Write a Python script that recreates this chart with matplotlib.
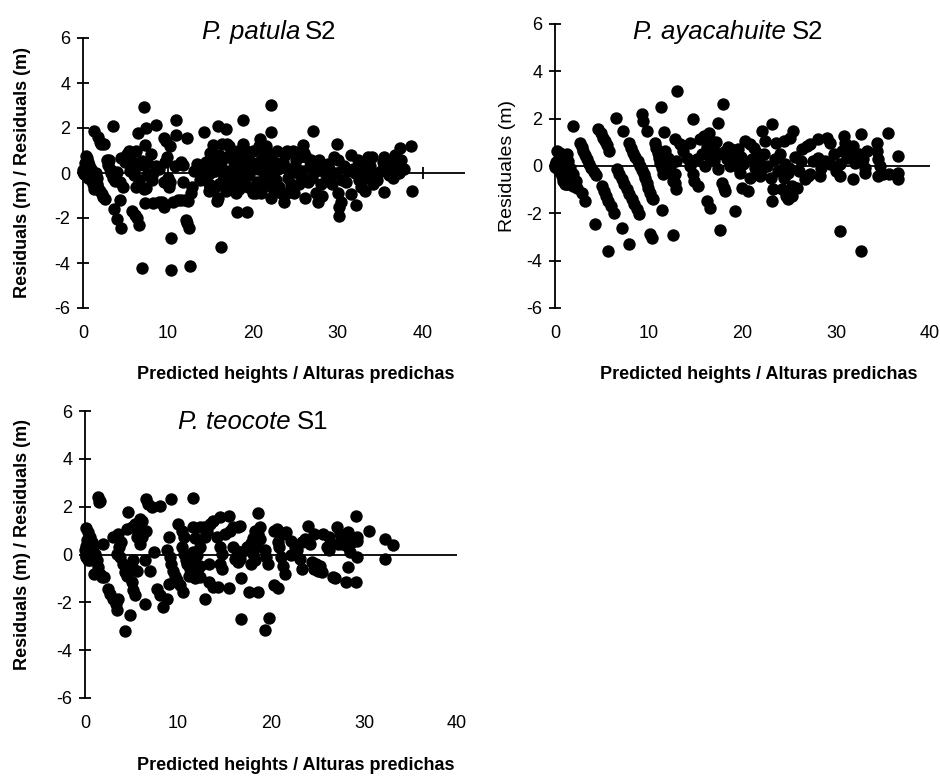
import numpy as np
import matplotlib
matplotlib.use("Agg")
import matplotlib.pyplot as plt
from matplotlib import font_manager

# ---------------- data (predicted height, residual) ----------------
patula = [
(0.0,0.15),(0.05,0.05),(0.15,-0.05),(0.3,0.75),(0.45,0.65),(0.6,0.5),(0.75,0.35),(0.9,0.2),(1.05,0.05),(1.2,-0.1),
(0.3,0.3),(0.5,0.15),(0.7,0.0),(0.85,-0.15),(1.0,-0.3),(1.15,-0.5),(1.3,-0.7),(0.2,0.45),(0.4,-0.1),(0.6,-0.2),
(1.4,-0.35),(1.6,-0.5),(1.8,-0.65),(2.0,-0.8),(2.2,-0.95),(2.4,-1.05),(2.6,-1.15),(1.5,0.0),(1.7,-0.2),(1.3,1.88),
(1.75,1.6),(2.0,1.4),(2.5,1.3),(2.1,1.3),
(2.8,0.6),(3.1,0.6),(2.9,0.35),(3.2,0.2),(3.3,0.0),(3.5,-0.2),(3.8,-0.35),(3.5,2.07),(3.6,-1.6),(4.0,-2.05),
(4.5,-2.45),(4.4,-1.2),(4.7,-0.6),(4.3,-0.4),(4.0,0.05),(4.5,0.65),(4.9,0.5),
(5.2,0.85),(5.4,1.0),(5.7,0.9),(6.2,1.0),(5.5,0.1),(5.7,0.35),(6.1,0.45),(6.4,0.3),(6.0,-0.1),(6.5,1.76),
(6.3,-0.6),(6.6,-0.3),(5.8,-1.7),(6.1,-1.85),(6.4,-2.0),(6.6,-2.3),(7.0,-4.2),(7.15,2.94),(7.4,2.02),(7.3,1.25),
(7.0,0.55),(7.2,0.35),(7.5,0.5),(7.5,-0.1),(7.2,-0.7),(7.4,-0.65),(7.3,-1.35),
(8.0,0.85),(8.1,-0.3),(8.3,0.0),(8.6,2.14),(8.2,-1.35),(8.6,0.3),(8.9,0.2),(8.9,-1.3),(9.3,-1.3),(9.5,1.55),
(9.8,1.42),(9.6,-0.4),(9.7,0.5),(9.6,-1.5),(9.9,0.7),(10.0,-0.2),(10.2,1.2),(10.1,-0.6),(10.3,-0.4),
(10.4,-2.9),(10.4,-4.3),(10.6,-1.3),(10.8,0.3),(11.0,2.36),(11.0,1.7),(11.2,-1.2),(11.6,-1.2),(11.5,0.5),(11.8,0.35),
(11.8,-0.4),(12.0,-1.2),(12.2,1.54),(12.1,-2.1),(12.3,-2.2),(12.5,-2.45),(12.4,-1.25),(12.6,-4.15),(12.8,-0.6),
(12.7,-0.9),(13.1,0.1),(13.4,0.4),(13.6,0.25),
(14.3,1.83),(14.0,0.2),(14.3,-0.1),(14.6,0.3),(14.8,-0.5),(15.0,0.0),(15.0,0.9),(15.3,1.26),(15.5,0.6),(15.3,-0.7),
(15.8,-1.25),(15.9,-1.1),(15.9,2.07),(16.2,-3.3),(16.1,0.2),(16.3,0.5),(16.4,1.3),(16.5,-0.3),(16.8,1.95),(16.8,0.7),
(17.0,0.1),(17.0,-0.6),(17.2,1.2),
(17.5,0.0),(17.8,0.5),(17.8,-0.3),(18.0,-0.9),(18.3,1.0),(18.2,-1.75),(18.5,0.2),(18.7,-0.5),(18.9,2.36),(18.9,1.28),
(19.2,1.0),(19.3,-1.75),(19.2,0.3),(19.4,-0.6),(19.8,0.5),(19.6,-0.1),(20.0,-0.9),(20.3,-0.7),
(20.8,1.51),(20.7,1.2),(20.6,0.2),(21.0,0.6),(21.3,-0.2),(21.3,0.9),(21.6,1.18),(21.8,-0.55),(22.0,0.1),(22.2,3.01),
(22.2,1.83),(22.2,-1.1),(22.5,0.5),(22.7,-0.3),(22.9,1.0),(23.1,-0.6),(23.4,0.3),
(23.7,-1.3),(23.8,0.8),(24.0,-0.9),(24.3,0.2),(24.5,-0.5),(24.7,1.0),(24.8,-0.9),(25.1,0.6),(25.3,0.0),(25.5,-0.5),
(25.9,1.26),(26.0,-0.3),(26.2,-1.1),(26.3,0.7),(26.7,0.3),(27.1,1.88),(27.0,-0.2),(27.3,0.5),
(27.7,-1.3),(27.8,0.6),(28.0,-0.5),(28.3,0.2),(28.7,-0.3),(28.9,0.4),(29.3,-0.5),(29.6,0.7),(29.9,1.31),(30.0,0.6),
(30.2,-1.9),(30.1,-1.5),(30.4,-1.3),(30.5,-0.3),(30.7,0.3),(31.2,0.1),(31.6,0.8),(31.6,-0.95),(31.8,0.2),
(32.2,-1.4),(32.5,-0.3),(32.8,-0.6),(33.0,0.1),(33.4,-0.2),(33.6,0.7),(34.1,0.7),(34.0,0.0),(34.6,-0.3),(35.1,0.1),
(35.4,-0.85),(35.5,0.7),(35.8,0.35),(36.0,-0.1),(36.2,0.2),(36.6,0.5),(37.0,0.3),(37.3,1.11),(37.5,0.6),(37.8,0.2),
(38.6,1.18),(38.8,-0.78),(36.5,-0.2),(35.6,0.3),
(14.5,0.5),(15.6,0.1),(16.8,-0.2),(17.4,0.7),(18.1,0.4),(18.8,0.0),(19.0,-0.2),(19.6,0.9),(20.2,0.4),(20.5,-0.4),
(21.5,0.3),(22.4,-0.2),(23.0,0.2),(23.6,0.5),(24.2,-0.2),(25.0,0.3),(25.8,0.1),(26.5,-0.4),(27.5,0.1),(28.5,0.0),
(29.0,-0.2),(29.8,0.0),(31.0,-0.4),(32.0,0.0),(32.7,0.3),(33.8,0.3),(34.8,0.0),(35.3,0.5),(36.8,0.8),(37.2,0.0),
(26.0,0.9),(24.0,1.0),(22.0,0.8),(21.0,-0.9),(20.0,1.0),(19.0,0.7),(18.0,0.8),(17.0,1.3),(16.0,0.8),(15.5,-0.6),
(14.8,-0.8),(13.8,-0.3),(30.0,-0.9),(29.0,0.2),(33.2,-0.8),(32.4,0.6),(34.2,-0.5),(28.2,-1.0),(27.5,-0.9),(26.8,0.6),
(25.5,0.7),(24.4,-0.8),(23.3,-0.9),(22.5,-0.8),(21.2,-0.6),(20.4,-0.9),(19.0,-0.4),(18.4,-0.7),(17.5,-0.5),(16.8,-0.8),
(16.0,-0.5),
]

ayacahuite = [
(0.0,0.05),(0.05,-0.05),(0.1,0.15),(0.25,0.63),(0.46,0.49),(0.6,0.35),(0.82,0.21),(0.96,0.07),(1.1,-0.07),(1.25,-0.21),
(1.39,-0.35),(1.53,-0.49),(1.67,-0.7),(1.96,-0.85),(0.25,-0.07),(0.46,-0.21),(0.7,-0.42),(0.9,-0.63),(1.07,-0.77),(1.3,-0.77),
(1.25,0.49),(1.42,0.21),(1.6,-0.07),(1.96,-0.35),(2.24,-0.63),(2.38,-0.92),(0.53,0.56),(1.24,-0.77),(0.8,-0.1),(0.4,0.3),
(0.7,0.0),(1.0,-0.4),(2.85,-1.13),(3.2,-1.48),(1.9,1.7),
(2.67,0.99),(2.85,0.82),(3.03,0.63),(3.2,0.45),(3.45,0.28),(3.65,0.1),(3.87,-0.07),(4.15,-0.24),(4.36,-0.38),(4.27,-2.46),
(4.6,1.55),(4.86,1.38),(5.07,1.2),(5.3,1.06),(5.5,0.89),(5.8,0.63),
(5.0,-0.85),(5.23,-1.06),(5.45,-1.27),(5.7,-1.48),(5.95,-1.69),(6.3,-1.97),(5.7,-3.59),
(6.58,-0.14),(6.86,-0.35),(7.1,-0.56),(7.37,-0.77),(7.65,-0.99),(7.93,-1.2),(8.18,-1.41),(8.43,-1.62),(8.72,-1.83),(8.97,-2.04),
(6.5,2.04),(7.1,-2.6),(7.9,-3.28),(7.3,1.48),
(7.93,0.99),(8.15,0.77),(8.36,0.56),(8.58,0.38),(8.83,0.21),(9.08,0.0),(9.3,-0.18),(9.5,-0.35),
(9.25,2.18),(9.4,1.9),(9.8,1.48),
(9.6,-0.49),(9.8,-0.7),(9.96,-0.92),(10.15,-1.13),(10.3,-1.34),(10.5,-1.41),(10.1,-2.89),(10.3,-3.03),
(10.7,0.99),(10.8,0.77),(10.95,0.56),(11.1,0.35),(11.2,0.14),(11.4,-0.07),(11.5,-0.35),
(11.3,2.5),(11.6,1.44),(11.4,-1.86),(12.6,-2.93),(13.0,3.17),
(12.8,1.13),(12.9,0.21),(12.8,-0.35),(12.8,-0.7),(12.9,-0.99),
(11.75,0.63),(12.0,0.35),(12.3,0.0),(12.45,-0.35),(12.6,-0.63),
(13.3,0.92),(13.7,0.63),(14.05,0.35),(14.4,0.0),(14.7,-0.35),(14.85,-0.63),
(14.4,0.99),(15.1,0.28),(15.3,-0.85),(14.7,2.0),
(15.5,1.13),(15.85,1.27),(16.4,1.41),(16.6,1.06),(16.9,0.77),(17.4,0.49),(17.0,0.2),(16.5,0.4),(15.7,0.5),(16.0,0.0),
(16.2,0.8),(17.2,1.0),(16.2,-1.48),(16.5,-1.76),(17.4,1.8),(17.9,2.6),(17.6,-2.72),
(17.4,-0.14),(17.8,-0.7),(18.0,-0.92),(18.1,-1.06),(19.2,-1.9),
(18.0,0.6),(18.5,0.8),(18.8,0.7),(19.0,0.5),(19.3,0.2),(18.3,0.3),(18.7,0.0),
(23.1,1.76),(22.1,1.48),(25.4,1.48),(25.1,1.2),(22.4,1.06),(23.6,0.99),(24.4,1.06),(20.3,1.06),(20.8,0.92),(21.2,0.77),
(21.5,0.56),(19.5,0.7),(19.8,0.4),(20.0,0.1),(19.6,-0.1),
(19.7,-0.28),(20.8,-0.49),(21.9,-0.42),(23.0,-0.49),(19.9,-0.92),(20.6,-1.06),
(23.3,-0.99),(24.2,-0.99),(25.3,-0.85),(25.8,-0.92),(23.1,-1.48),(24.6,-1.27),(24.9,-1.41),(25.3,-1.27),(24.4,-0.49),(24.9,-0.28),
(26.3,0.7),(26.9,0.85),(27.2,0.92),(26.2,0.21),(27.0,-0.42),(26.7,-0.56),(27.2,-0.35),
(28.1,1.13),(29.0,1.2),(29.3,0.99),(28.1,0.35),(28.8,0.21),(28.4,-0.07),(28.3,-0.42),(29.3,0.07),
(30.8,1.27),(30.9,0.99),(30.6,0.63),(31.1,0.35),(30.4,0.07),(30.4,-0.42),
(31.8,0.85),(31.6,0.49),(32.0,0.14),(31.8,-0.56),(32.6,1.34),(32.4,0.49),(32.9,0.28),(33.1,-0.07),(33.3,0.63),(33.1,-0.28),
(34.3,0.99),(34.3,0.63),(34.5,0.28),(34.7,0.0),(34.5,-0.42),(35.0,-0.35),(35.6,-0.35),(35.5,1.41),
(36.6,0.42),(36.6,-0.28),(36.6,-0.56),(30.4,-2.75),(32.6,-3.59),
(21.0,0.3),(21.8,0.2),(22.3,0.5),(22.6,0.0),(23.5,0.3),(23.8,-0.2),(22.0,-0.2),(21.3,-0.1),
(24.0,0.5),(24.5,0.1),(25.0,-0.1),(25.6,0.4),(26.0,-0.2),(27.5,0.2),(29.8,0.5),(30.0,-0.2),
]

teocote = [
(0.0,0.2),(0.1,0.35),(0.25,0.05),(0.1,-0.1),(0.35,-0.25),(0.5,0.3),(0.7,0.0),(0.2,0.6),(0.4,0.1),(0.15,-0.05),
(0.1,1.1),(0.36,0.93),(0.54,0.72),(0.72,0.51),(0.9,0.31),(1.08,0.03),(1.25,-0.25),(1.43,-0.53),(1.6,-0.81),(1.8,-0.95),
(1.43,2.39),(1.54,2.18),(1.6,2.25),(0.97,-0.81),(0.7,-0.11),(0.55,-0.25),(1.97,0.45),
(2.04,-0.95),(2.5,-1.43),(2.7,-1.64),(3.05,-1.85),(3.3,-2.06),(3.4,-2.34),(3.2,-1.92),(3.6,-1.85),
(3.05,0.72),(3.6,0.86),(3.9,0.51),(3.7,0.31),(3.4,0.03),(3.8,-0.11),(4.1,-0.39),(4.3,-0.74),(4.5,-0.88),
(4.66,1.77),(4.3,-3.2),(4.84,-2.55),(5.0,-1.15),(5.2,-1.5),(5.4,-1.71),
(4.5,1.07),(5.0,1.14),(5.4,1.28),(5.2,-0.25),(5.0,-0.53),(5.56,-0.67),
(5.9,1.49),(6.1,1.42),(5.7,1.21),(6.3,1.0),(5.6,0.72),(5.9,0.45),(6.1,0.72),
(6.6,2.32),(6.8,2.11),(7.2,2.0),(8.1,2.04),(6.45,-0.25),(7.0,-0.67),(6.45,-2.06),(6.6,1.0),(7.4,0.1),
(7.7,-1.43),(8.1,-1.71),(8.4,-2.2),(8.8,-1.85),(9.0,-1.22),(9.3,2.32),
(9.0,0.72),(8.8,0.17),(9.1,-0.11),(9.3,-0.39),(9.5,-0.67),
(9.7,-0.88),(9.9,-1.08),(10.2,-1.29),(10.5,-1.57),
(10.0,1.28),(10.4,1.0),(10.6,0.72),(10.4,0.31),(10.6,0.03),(10.9,-0.25),(11.6,2.36),
(11.0,-0.4),(11.3,-0.6),(11.6,-0.8),(12.0,-0.65),(12.4,-0.5),(12.4,-0.95),(12.0,-0.45),(11.5,-0.4),(11.2,-0.9),(11.8,-1.0),
(11.6,0.1),(12.0,0.0),(12.4,0.3),(11.8,0.7),(11.6,1.14),(12.4,1.14),(12.8,1.14),(13.1,1.0),(12.9,0.72),
(12.9,-1.85),(13.3,-1.15),(13.8,-1.36),(14.3,-1.36),
(13.3,-0.39),(13.4,1.28),(13.8,1.42),(14.5,1.56),(14.2,0.72),(14.5,0.31),(14.7,0.03),(14.5,-0.39),(14.7,-0.6),
(15.5,1.59),(15.5,-1.39),(15.0,0.86),(15.6,1.0),(15.9,1.14),(16.5,1.14),(16.7,1.21),
(15.9,0.3),(16.3,0.15),(16.1,-0.2),(16.4,-0.3),(16.7,-0.2),(16.9,0.1),
(16.8,-1.0),(16.8,-2.68),(17.6,-1.57),(18.6,-1.57),
(17.4,0.3),(17.8,0.5),(18.1,0.7),(18.3,1.0),(18.6,0.85),(18.8,0.65),(18.4,0.3),(18.1,0.03),(17.9,-0.4),(18.3,-0.25),
(18.6,1.72),(18.8,1.14),(19.4,0.17),(19.5,-0.11),(19.7,-0.39),
(19.4,-3.17),(19.8,-2.66),(20.3,-1.29),(20.8,-1.39),
(20.3,1.0),(20.6,1.07),(21.3,0.86),(21.6,0.93),(20.8,0.51),(20.9,0.31),(21.1,-0.11),(21.3,-0.46),(21.5,-0.81),
(22.2,0.58),(22.6,0.31),(22.8,0.17),(23.1,-0.18),(22.2,-0.04),
(24.0,1.21),(24.6,0.86),(23.3,0.51),(23.7,0.65),(24.2,0.45),(23.3,-0.6),
(24.4,-0.32),(24.6,-0.6),(25.0,-0.67),(25.3,-0.46),(25.5,-0.74),(24.8,-0.39),
(25.6,0.86),(26.2,0.72),(26.3,0.45),(26.2,0.17),(26.0,0.31),(26.7,-0.95),(26.9,-1.0),
(27.1,1.14),(27.4,0.86),(27.2,0.45),(27.6,0.45),
(28.3,0.93),(28.5,0.72),(28.7,0.51),(28.3,0.31),(28.5,0.1),(28.3,-0.53),(28.1,-1.15),(29.1,-1.15),
(29.1,1.59),(29.2,0.72),(29.2,0.58),(29.2,-0.11),(30.5,0.97),(32.3,0.65),(33.1,0.38),(32.3,-0.18),
]

y_ticks = [-6, -4, -2, 0, 2, 4, 6]
x_ticks = [0, 10, 20, 30, 40]
xlabel_text = "Predicted heights / Alturas predichas"

# ---------------- fonts ----------------
plt.rcParams['axes.unicode_minus'] = False
names = {f.name for f in font_manager.fontManager.ttflist}
narrow = 'Liberation Sans Narrow' if 'Liberation Sans Narrow' in names else 'Liberation Sans'
base = ['Liberation Sans', 'DejaVu Sans']
plt.rcParams['font.family'] = base

fig = plt.figure(figsize=(9.4, 7.77), dpi=100)
W, H = 940.0, 777.0

def make_axes(left, right, top, bottom, xmax, data, xtick_marks=False):
    ax = fig.add_axes([left / W, 1 - bottom / H, (right - left) / W, (bottom - top) / H])
    for s in ['top', 'right', 'bottom']:
        ax.spines[s].set_visible(False)
    ax.spines['left'].set_linewidth(1.3)
    ax.set_xlim(0, xmax)
    ax.set_ylim(-6, 6)
    ax.set_yticks(y_ticks)
    ax.set_yticklabels([str(t) for t in y_ticks])
    ax.set_xticks(x_ticks)
    ax.set_xticklabels([str(t) for t in x_ticks])
    ax.tick_params(axis='y', direction='inout', length=8, width=1.3, pad=5, labelsize=13)
    ax.tick_params(axis='x', length=0, pad=12, labelsize=13)
    ax.axhline(0, color='black', lw=1.3, zorder=1)
    if xtick_marks:
        ax.vlines(x_ticks[1:], -0.25, 0.25, color='black', lw=1.3, zorder=1)
    arr = np.array(data)
    ax.scatter(arr[:, 0], arr[:, 1], s=80, c='black', linewidths=0, clip_on=False, zorder=3)
    return ax

ax1 = make_axes(83, 465, 38, 308, 45, patula, xtick_marks=True)
ax2 = make_axes(555, 930, 24, 308, 40, ayacahuite)
ax3 = make_axes(85, 457, 411, 698, 40, teocote)

# titles
tsize = 18.5
fig.text(300 / W, 1 - 32 / H, "P. patula", ha='right', va='center', fontsize=tsize, style='italic')
fig.text(305 / W, 1 - 32 / H, "S2", ha='left', va='center', fontsize=tsize)
fig.text(786 / W, 1 - 32 / H, "P. ayacahuite", ha='right', va='center', fontsize=tsize, style='italic')
fig.text(792 / W, 1 - 32 / H, "S2", ha='left', va='center', fontsize=tsize)
fig.text(291 / W, 1 - 422 / H, "P. teocote", ha='right', va='center', fontsize=tsize, style='italic')
fig.text(297 / W, 1 - 422 / H, "S1", ha='left', va='center', fontsize=tsize)

# axis labels
lab = dict(fontsize=13, fontweight='bold', family=[narrow, 'DejaVu Sans'])
fig.text(296 / W, 1 - 375 / H, xlabel_text, ha='center', va='center', **lab)
fig.text(759 / W, 1 - 375 / H, xlabel_text, ha='center', va='center', **lab)
fig.text(296 / W, 1 - 765 / H, xlabel_text, ha='center', va='center', **lab)
fig.text(23 / W, 1 - 173 / H, "Residuals (m) / Residuals (m)", rotation=90, ha='center', va='center', **lab)
fig.text(23 / W, 1 - 545 / H, "Residuals (m) / Residuals (m)", rotation=90, ha='center', va='center', **lab)
fig.text(507 / W, 1 - 166 / H, "Residuales (m)", rotation=90, ha='center', va='center', fontsize=14)

fig.savefig("out.png", dpi=100)
